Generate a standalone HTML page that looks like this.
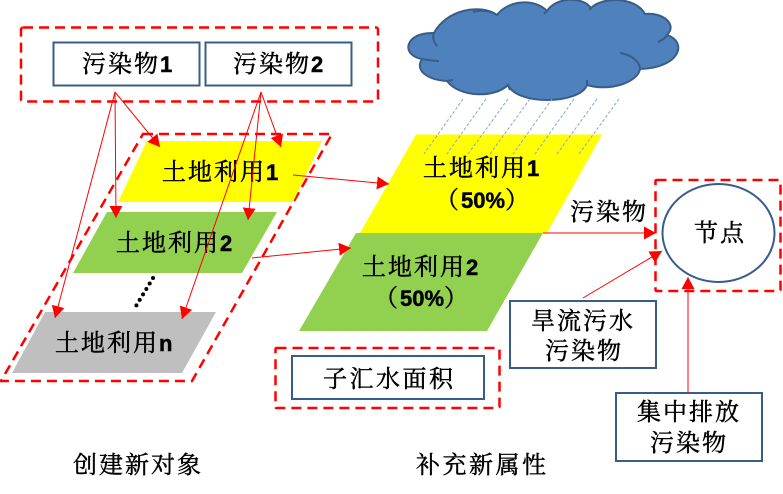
<!DOCTYPE html>
<html lang="zh-CN"><head><meta charset="utf-8"><style>
html,body{margin:0;padding:0;background:#fff;width:783px;height:494px;overflow:hidden}
svg{display:block}
text{font-family:"Noto Serif CJK SC","Liberation Serif",serif;font-size:24px;letter-spacing:2px;fill:#000;stroke:#000;stroke-width:.45px}
text.w{letter-spacing:2.5px}
tspan.b{font-family:"Liberation Sans",sans-serif;font-weight:bold;font-size:22px;letter-spacing:0}
.d{fill:none;stroke:#f00;stroke-width:2.5;stroke-dasharray:10 6}
.box{fill:#fff;stroke:#385d8a;stroke-width:2}
.a{stroke:#f00;stroke-width:1;fill:none;marker-end:url(#m)}
.r{stroke:#7ba7d8;stroke-width:1;stroke-dasharray:3 2}
</style></head><body>
<svg width="783" height="494" viewBox="0 0 783 494" xmlns="http://www.w3.org/2000/svg">
<defs><marker id="m" markerUnits="userSpaceOnUse" markerWidth="14" markerHeight="14" refX="12" refY="6.5" orient="auto"><path d="M0,0L12,6.5L0,13Z" fill="#f00"/></marker></defs>

<rect class="d" x="21" y="27.5" width="357" height="74" rx="2"/>
<rect class="box" x="53.5" y="42.5" width="146" height="43"/>
<rect class="box" x="205.5" y="42.5" width="146" height="43"/>
<text x="82" y="72">污染物<tspan class="b">1</tspan></text>
<text x="233" y="72">污染物<tspan class="b">2</tspan></text>

<polygon class="d" points="143,134 332,134 192,381 1,381"/>
<polygon points="147,141 322,141 293,202 118,202" fill="#ff0"/>
<polygon points="107,212 277,212 242,273 73,273" fill="#92d050"/>
<polygon points="45,312 216,312 182,373 12,373" fill="#bfbfbf"/>
<text x="162" y="180">土地利用<tspan class="b">1</tspan></text>
<text x="116" y="251">土地利用<tspan class="b">2</tspan></text>
<text x="55" y="351">土地利用<tspan class="b">n</tspan></text>
<line x1="153" y1="278" x2="136" y2="306" stroke="#000" stroke-width="4" stroke-linecap="round" stroke-dasharray="0 6.4"/>

<path d="M434,33C446,10 480,3 497,15C508,0 535,-2 547,11C556,-3 582,-4 591,8C603,-4 636,-3 645,14C662,12 678,24 667,35C688,42 680,68 640,69C638,82 610,92 587,85C580,104 518,106 508,85C495,98 460,98 447,81C430,80 414,72 422,59C400,55 405,32 434,33Z" fill="#4f81bd" stroke="#385d8a" stroke-width="2"/>
<path d="M434,33C432,38 434,42 437,46M497,15C490,10 480,10 473,12M547,11L544,14M591,8L589,10M667,35C666,38 662,40 658,42M620,53C632,55 640,62 640,69M587,85C587,83 587,81 587,80M508,85L510,90M447,81C449,81 451,80 453,80M422,59C428,60 434,61 439,61" fill="none" stroke="#385d8a" stroke-width="2"/>

<polygon points="416,134.5 602,134.5 547,233 360,233" fill="#ff0"/>
<polygon points="356,233 543,233 487,331 299,331" fill="#92d050"/>
<g class="r">
<line x1="463" y1="99" x2="424" y2="154"/><line x1="486" y1="99" x2="447" y2="154"/>
<line x1="508" y1="99" x2="468" y2="154"/><line x1="530" y1="99" x2="490" y2="154"/>
<line x1="552" y1="99" x2="513" y2="154"/><line x1="574" y1="99" x2="535" y2="154"/>
<line x1="597" y1="99" x2="557" y2="154"/><line x1="619" y1="99" x2="579" y2="154"/>
</g>
<text x="423" y="176">土地利用<tspan class="b">1</tspan></text>
<text x="435" y="208">（<tspan class="b">50%</tspan>）</text>
<text x="362" y="275">土地利用<tspan class="b">2</tspan></text>
<text x="374" y="306">（<tspan class="b">50%</tspan>）</text>

<rect class="d" x="275.5" y="348" width="224" height="60" rx="1"/>
<rect class="box" x="292" y="356" width="192" height="43"/>
<text class="w" x="323" y="387">子汇水面积</text>

<rect class="d" x="655.5" y="180" width="125" height="111" rx="1"/>
<ellipse cx="718.5" cy="233" rx="56" ry="49" fill="#fff" stroke="#385d8a" stroke-width="2"/>
<text x="694" y="241">节点</text>
<text x="570" y="220">污染物</text>

<rect class="box" x="510" y="301" width="146" height="67"/>
<text x="531" y="329">旱流污水</text>
<text x="545" y="359">污染物</text>
<rect class="box" x="616" y="393" width="146" height="68"/>
<text x="637" y="420">集中排放</text>
<text x="650" y="451">污染物</text>

<text x="73" y="473">创建新对象</text>
<text class="w" x="416" y="473">补充新属性</text>

<line class="a" x1="115" y1="92" x2="160" y2="147"/>
<line class="a" x1="115" y1="92" x2="116" y2="218"/>
<line class="a" x1="115" y1="92" x2="55" y2="318"/>
<line class="a" x1="261" y1="92" x2="281" y2="147"/>
<line class="a" x1="261" y1="92" x2="248" y2="220"/>
<line class="a" x1="261" y1="92" x2="182" y2="319"/>
<line class="a" x1="293" y1="175" x2="389" y2="184"/>
<line class="a" x1="252" y1="258" x2="351" y2="248"/>
<line class="a" x1="543" y1="233" x2="656" y2="233"/>
<line class="a" x1="583" y1="298" x2="662" y2="251"/>
<line class="a" x1="688" y1="393" x2="688" y2="277"/>
</svg>
</body></html>
